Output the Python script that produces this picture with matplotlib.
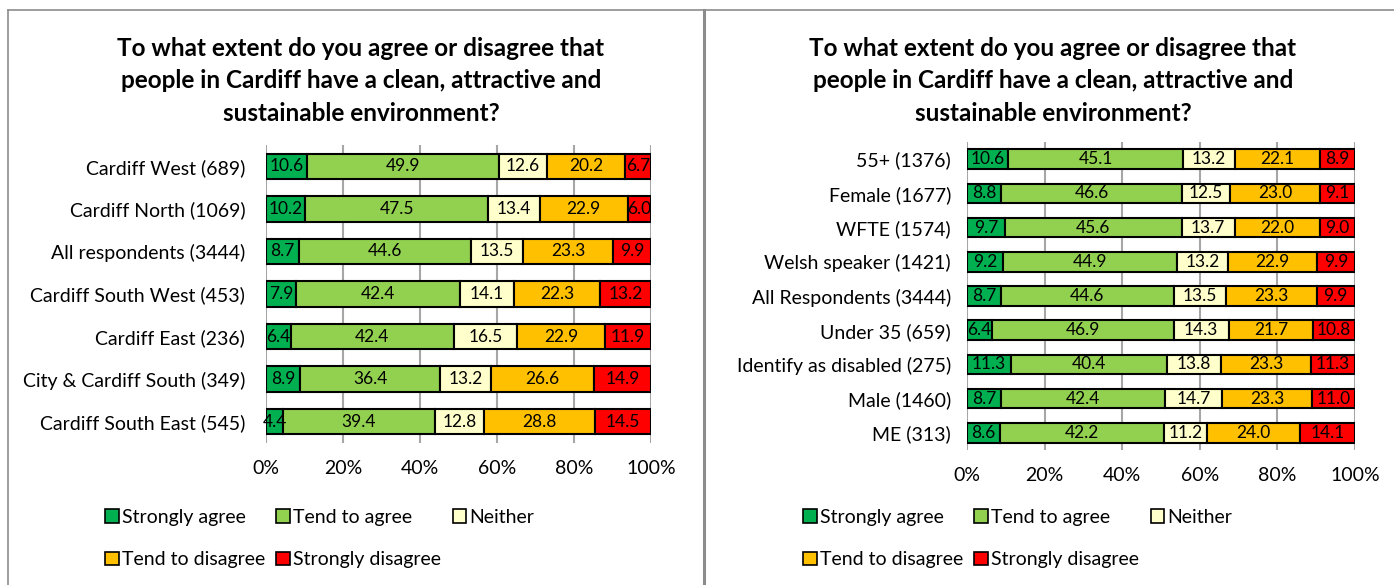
import numpy as np
import matplotlib
matplotlib.use("Agg")
import matplotlib.pyplot as plt
from matplotlib.lines import Line2D

plt.rcParams['font.family'] = ['Lato', 'DejaVu Sans']

title = "To what extent do you agree or disagree that\npeople in Cardiff have a clean, attractive and\nsustainable environment?"

responses = ["Strongly agree", "Tend to agree", "Neither", "Tend to disagree", "Strongly disagree"]
colors = ["#00B050", "#92D050", "#FFFFCC", "#FFC000", "#FF0000"]

# left panel: areas
area_cats = ["Cardiff West (689)", "Cardiff North (1069)", "All respondents (3444)",
             "Cardiff South West (453)", "Cardiff East (236)", "City & Cardiff South (349)",
             "Cardiff South East (545)"]
area_sa = [10.6, 10.2, 8.7, 7.9, 6.4, 8.9, 4.4]
area_ta = [49.9, 47.5, 44.6, 42.4, 42.4, 36.4, 39.4]
area_ne = [12.6, 13.4, 13.5, 14.1, 16.5, 13.2, 12.8]
area_td = [20.2, 22.9, 23.3, 22.3, 22.9, 26.6, 28.8]
area_sd = [6.7, 6.0, 9.9, 13.2, 11.9, 14.9, 14.5]

# right panel: demographic groups
grp_cats = ["55+ (1376)", "Female (1677)", "WFTE (1574)", "Welsh speaker (1421)",
            "All Respondents (3444)", "Under 35 (659)", "Identify as disabled (275)",
            "Male (1460)", "ME (313)"]
grp_sa = [10.6, 8.8, 9.7, 9.2, 8.7, 6.4, 11.3, 8.7, 8.6]
grp_ta = [45.1, 46.6, 45.6, 44.9, 44.6, 46.9, 40.4, 42.4, 42.2]
grp_ne = [13.2, 12.5, 13.7, 13.2, 13.5, 14.3, 13.8, 14.7, 11.2]
grp_td = [22.1, 23.0, 22.0, 22.9, 23.3, 21.7, 23.3, 23.3, 24.0]
grp_sd = [8.9, 9.1, 9.0, 9.9, 9.9, 10.8, 11.3, 11.0, 14.1]

W, H = 1394, 585
fig = plt.figure(figsize=(W / 100, H / 100), dpi=100)


def px(x0, y0, x1, y1):
    return [x0 / W, 1 - y1 / H, (x1 - x0) / W, (y1 - y0) / H]


def draw_panel(ax, cats, series, bar_h, label_pad):
    vals = np.array(series, dtype=float)
    pct = vals / vals.sum(axis=0) * 100  # 100% stacked like Excel
    y = np.arange(len(cats))
    left = np.zeros(len(cats))
    for i in range(len(responses)):
        ax.barh(y, pct[i], left=left, height=bar_h, color=colors[i],
                edgecolor="black", linewidth=1.5, label=responses[i], zorder=3)
        for yy, l, w, v in zip(y, left, pct[i], vals[i]):
            ax.text(l + w / 2, yy, f"{v:.1f}", ha="center", va="center",
                    fontsize=12.5, color="black", zorder=4)
        left += pct[i]
    ax.set_xlim(0, 100)
    ax.set_ylim(len(cats) - 0.5, -0.5)
    ax.set_yticks(y)
    ax.set_yticklabels(cats, fontsize=14)
    ax.set_xticks(np.arange(0, 101, 20))
    ax.set_xticklabels([f"{t}%" for t in range(0, 101, 20)], fontsize=14)
    ax.tick_params(axis="y", length=0, pad=label_pad)
    ax.tick_params(axis="x", length=0, pad=12)
    ax.grid(axis="x", color="#a6a6a6", linewidth=1.5, zorder=0)
    for s in ax.spines.values():
        s.set_visible(False)


ax1 = fig.add_axes(px(266, 145, 651, 443))
draw_panel(ax1, area_cats, [area_sa, area_ta, area_ne, area_td, area_sd], 0.6, 15)

ax2 = fig.add_axes(px(967, 142, 1355, 450))
draw_panel(ax2, grp_cats, [grp_sa, grp_ta, grp_ne, grp_td, grp_sd], 0.57, 11.5)

# titles centred on the panels
for cx in [361, 1053]:
    fig.text(cx / W, 1 - 81 / H, title, ha="center", va="center", multialignment="center",
             fontsize=17.5, fontweight="bold", linespacing=1.5)

# legends, Excel-style two rows
for ax, lx in [(ax1, 105), (ax2, 803)]:
    h, l = ax.get_legend_handles_labels()
    order = [0, 3, 1, 4, 2]
    leg = fig.legend([h[i] for i in order], [l[i] for i in order], ncol=3,
                     loc="upper left", bbox_to_anchor=(lx / W, 1 - 509 / H),
                     frameon=False, fontsize=14, handlelength=0.7, handleheight=0.7,
                     handletextpad=0.15, columnspacing=0.6, labelspacing=1.3,
                     borderpad=0, borderaxespad=0)
    for p in leg.get_patches():
        p.set_linewidth(1.2)

# panel borders
bc = "#8c8c8c"
fig.add_artist(Line2D([8 / W, 8 / W], [0, 1 - 10 / H], color=bc, linewidth=1.2))
fig.add_artist(Line2D([8 / W, 1], [1 - 10 / H, 1 - 10 / H], color=bc, linewidth=1.2))
fig.add_artist(Line2D([704 / W, 704 / W], [0, 1 - 10 / H], color=bc, linewidth=2.2))

fig.savefig("out.png", dpi=100)
